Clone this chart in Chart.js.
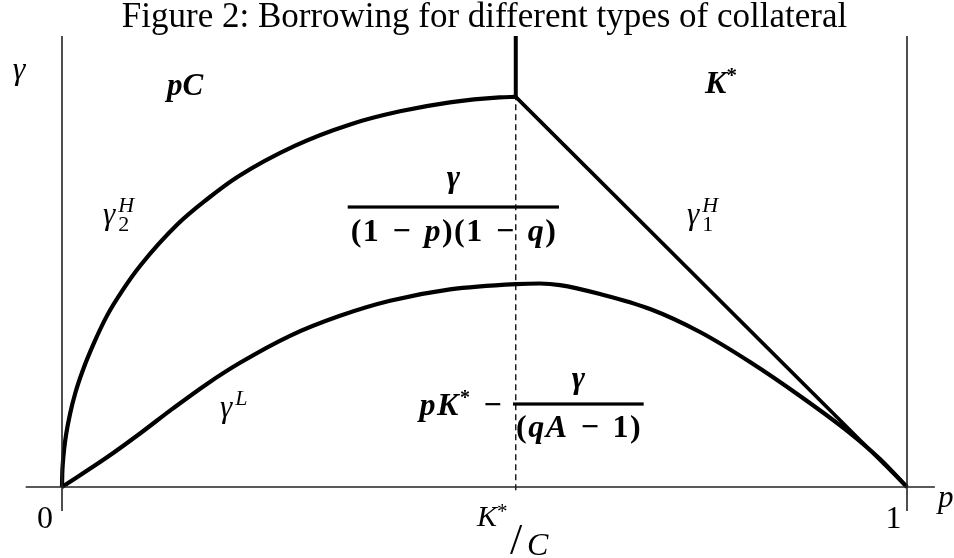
<!DOCTYPE html>
<html><head><meta charset="utf-8">
<script src="https://cdn.jsdelivr.net/npm/chart.js@4.4.1/dist/chart.umd.min.js"></script>
<style>html,body{margin:0;padding:0;background:#fff}canvas{display:block}</style>
</head><body>
<canvas id="c" width="954" height="558"></canvas>
<script>
// ---- data (x = p, y = gamma) ----
const titleText = 'Figure 2: Borrowing for different types of collateral';
const kStarOverC = 0.537;      // p position of K*/C
const kinkGamma = 0.865;       // gamma at the kink
const upperLeftP = [0, 0.0003, 0.001, 0.0025, 0.005, 0.0095, 0.016, 0.0249, 0.038, 0.0533, 0.072, 0.0923, 0.137, 0.1716, 0.208, 0.276, 0.341, 0.400, 0.459, 0.518, 0.537];
const upperLeftG = [0, 0.0289, 0.0528, 0.0835, 0.118, 0.162, 0.210, 0.260, 0.320, 0.380, 0.437, 0.490, 0.583, 0.638, 0.688, 0.757, 0.804, 0.833, 0.853, 0.864, 0.865];
const upperRightP = [0.537, 1];
const upperRightG = [0.865, 0];
const lowerP = [0, 0.0533, 0.0923, 0.1314, 0.1716, 0.2107, 0.2698, 0.3290, 0.3882, 0.4592, 0.5373, 0.5657, 0.5893, 0.6367, 0.6959, 0.7550, 0.8142, 0.8734, 0.9325, 0.9680, 1];
const lowerG = [0, 0.0658, 0.1186, 0.1743, 0.2286, 0.2754, 0.3353, 0.3796, 0.4129, 0.4382, 0.4499, 0.4512, 0.4477, 0.4279, 0.3947, 0.3437, 0.2772, 0.2018, 0.1197, 0.0621, 0];
const xTickLabels = ['0', '1'];
const axisLabels = ['γ', 'p'];

const pts = (xs, ys) => xs.map((x, i) => ({x, y: ys[i]}));
const F = '"Liberation Serif", serif';
const bi = s => `italic bold ${s}px ${F}`;
const b = s => `bold ${s}px ${F}`;
const it = s => `italic ${s}px ${F}`;
const rg = s => `${s}px ${F}`;
const MINUS = '\u2004\u2212\u2004';

function measure(ctx, segs, gap) {
  let w = 0;
  segs.forEach(s => { ctx.font = s[1]; w += ctx.measureText(s[0]).width + (gap || 0) * s[0].length; });
  return w - (gap || 0);
}
function rich(ctx, segs, x, y, align, gap) {
  gap = gap || 0;
  const w = measure(ctx, segs, gap);
  let cx = align === 'center' ? x - w / 2 : align === 'right' ? x - w : x;
  segs.forEach(s => {
    ctx.font = s[1];
    for (const ch of s[0]) {
      ctx.fillText(ch, cx, y + (s[2] || 0));
      cx += ctx.measureText(ch).width + gap;
    }
  });
  return w;
}
function gammaSS(ctx, x, y, sup, sub) {
  ctx.font = it(31);
  ctx.fillText('γ', x, y);
  const w = ctx.measureText('γ').width + 3;
  ctx.font = it(22);
  ctx.fillText(sup, x + w, y - 12);
  if (sub) { ctx.font = rg(22); ctx.fillText(sub, x + w, y + 7); }
}

const labelPlugin = {
  id: 'labels',
  afterDraw(chart) {
    const ctx = chart.ctx, xs = chart.scales.x, ys = chart.scales.y;
    const X = v => xs.getPixelForValue(v), Y = v => ys.getPixelForValue(v);
    ctx.save();
    ctx.fillStyle = '#000';
    ctx.textBaseline = 'alphabetic';
    ctx.textAlign = 'left';
    // axis labels
    rich(ctx, [[axisLabels[0], it(32)]], X(-0.0509), Y(0.905), 'center');
    rich(ctx, [[axisLabels[1], it(31)]], X(1.046), Y(-0.044), 'center');
    rich(ctx, [[xTickLabels[0], rg(32)]], X(-0.0201), Y(-0.0909), 'center');
    rich(ctx, [[xTickLabels[1], rg(32)]], X(0.984), Y(-0.0909), 'center');
    // K*/C
    {
      const x0 = X(0.4911), y0 = Y(-0.0865);
      ctx.font = it(30); ctx.fillText('K', x0, y0);
      const w = ctx.measureText('K').width;
      ctx.font = rg(21); ctx.fillText('*', x0 + w, y0 - 8);
      ctx.font = rg(44); ctx.fillText('/', x0 + 33, y0 + 28);
      ctx.font = it(32); ctx.fillText('C', x0 + 50, y0 + 29);
    }
    // region labels
    rich(ctx, [['pC', bi(31)]], X(0.1243), Y(0.869), 'left');
    rich(ctx, [['K', bi(32)], ['*', b(21), -11]], X(0.761), Y(0.8736), 'left');
    // curve labels
    gammaSS(ctx, X(0.0485), Y(0.583), 'H', '2');
    gammaSS(ctx, X(0.7396), Y(0.583), 'H', '1');
    gammaSS(ctx, X(0.187), Y(0.155), 'L', null);
    // fraction 1: γ / ((1 − p)(1 − q))
    {
      const G = 1.5;
      const den = [['(', b(32)], ['1', b(32)], [MINUS, b(32)], ['p', bi(32)], [')(', b(32)], ['1', b(32)], [MINUS, b(32)], ['q', bi(32)], [')', b(32)]];
      const w = measure(ctx, den, G);
      const right = X(0.5846);
      const cx = right - w / 2;
      rich(ctx, den, cx, Y(0.5455), 'center', G);
      ctx.fillRect(cx - w / 2 - 3, Y(0.6208) - 1.6, w + 6, 3.2);
      rich(ctx, [['γ', bi(32)]], cx, Y(0.665), 'center');
    }
    // fraction 2: pK* − γ/(qA − 1)
    {
      const G = 1.5;
      const bx = X(0.5337), by = Y(0.184);
      rich(ctx, [['p', bi(32)], ['K', bi(32)], ['*', b(20), -11], [MINUS, b(32)]], bx + 1, Y(0.1596), 'right', G);
      const den = [['(', b(32)], ['q', bi(32)], ['A', bi(32)], [MINUS, b(32)], ['1', b(32)], [')', b(32)]];
      const w = measure(ctx, den, G);
      const cx = bx + (w + 6) / 2;
      rich(ctx, den, cx, Y(0.1109), 'center', G);
      ctx.fillRect(bx, by - 1.6, w + 6, 3.2);
      rich(ctx, [['γ', bi(32)]], cx, Y(0.2195), 'center');
    }
    ctx.restore();
  }
};

const base = {showLine: true, pointRadius: 0, borderColor: '#000', fill: false, clip: false, borderCapStyle: 'butt', borderJoinStyle: 'round'};

new Chart(document.getElementById('c'), {
  type: 'scatter',
  data: {
    datasets: [
      Object.assign({}, base, {data: pts([-0.043, 1.033], [0, 0]), borderWidth: 1.5, borderColor: '#222'}),
      Object.assign({}, base, {data: pts([0, 0], [-0.053, 1]), borderWidth: 1.6, borderColor: '#222'}),
      Object.assign({}, base, {data: pts([1, 1], [-0.053, 1]), borderWidth: 1.6, borderColor: '#222'}),
      Object.assign({}, base, {data: pts([kStarOverC, kStarOverC], [-0.007, kinkGamma]), borderWidth: 1.3, borderDash: [6, 4]}),
      Object.assign({}, base, {data: pts([kStarOverC, kStarOverC], [kinkGamma, 1]), borderWidth: 4}),
      Object.assign({}, base, {data: pts(upperRightP, upperRightG), borderWidth: 3.6}),
      Object.assign({}, base, {data: pts(upperLeftP, upperLeftG), borderWidth: 4.2, cubicInterpolationMode: 'monotone'}),
      Object.assign({}, base, {data: pts(lowerP, lowerG), borderWidth: 4.2, cubicInterpolationMode: 'monotone'})
    ]
  },
  options: {
    responsive: false,
    animation: false,
    devicePixelRatio: 1,
    layout: {padding: {left: 62, right: 47, top: 0, bottom: 71}, autoPadding: false},
    scales: {
      x: {type: 'linear', min: 0, max: 1, display: false},
      y: {type: 'linear', min: 0, max: 1, display: false}
    },
    plugins: {
      legend: {display: false},
      tooltip: {enabled: false},
      title: {display: true, text: titleText, color: '#000', font: {family: F, size: 35, weight: 'normal', lineHeight: 1}, padding: {top: 0, bottom: 1}}
    }
  },
  plugins: [labelPlugin]
});
</script>
</body></html>
